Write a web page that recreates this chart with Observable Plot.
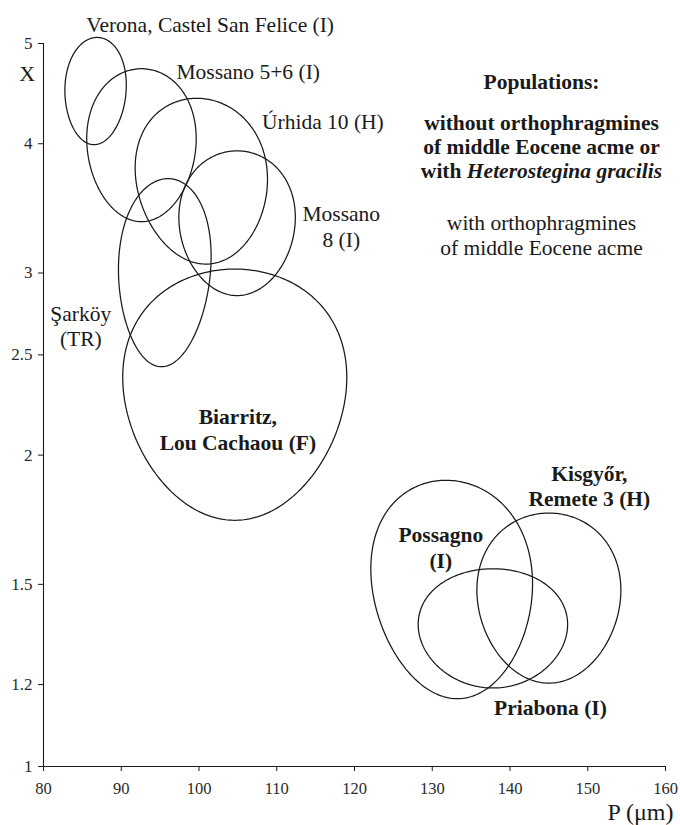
<!DOCTYPE html>
<html>
<head>
<meta charset="utf-8">
<script src="https://cdn.jsdelivr.net/npm/d3@7"></script>
<script src="https://cdn.jsdelivr.net/npm/@observablehq/plot@0.6"></script>
<style>
  html, body { margin: 0; padding: 0; background: #fff; }
  #chart { width: 680px; height: 825px; }
  #chart svg, #chart svg text { font-family: "Liberation Serif", "Times New Roman", serif; }
</style>
</head>
<body>
<div id="chart"></div>
<script>
// Populations (ellipse centre, spread and P–X correlation)
const populations = ["Verona, Castel San Felice", "Mossano 5+6", "Úrhida 10", "Mossano 8", "Şarköy",
                     "Biarritz, Lou Cachaou", "Possagno", "Kisgyőr, Remete 3", "Priabona"];
const meanP  = [86.7, 92.6, 100.3, 104.9, 95.6, 104.6, 132.5, 145.0, 137.8];
const sdP    = [3.95, 7.04, 8.51, 7.49, 5.96, 14.41, 10.40, 9.26, 9.61];
const meanX  = [4.53, 4.045, 3.743, 3.395, 3.068, 2.378, 1.527, 1.481, 1.372];
const sdX    = [0.538, 0.682, 0.683, 0.542, 0.633, 0.648, 0.364, 0.277, 0.181];
const corrPX = [0.05, 0, -0.07, 0, 0.07, 0, -0.07, 0, 0];

// Labels
const labelText   = ["Verona, Castel San Felice (I)", "Mossano 5+6 (I)", "Úrhida 10 (H)", "Mossano\n8 (I)", "Şarköy\n(TR)",
                     "Biarritz,\nLou Cachaou (F)", "Possagno\n(I)", "Kisgyőr,\nRemete 3 (H)", "Priabona (I)"];
const labelP      = [85.5, 97.1, 108.1, 118.3, 84.8, 105.0, 131.1, 150.2, 145.2];
const labelX      = [5.22, 4.71, 4.21, 3.33, 2.67, 2.12, 1.63, 1.87, 1.143];
const labelBold   = [false, false, false, false, false, true, true, true, true];
const labelAnchor = ["start", "start", "start", "middle", "middle", "middle", "middle", "middle", "middle"];

// Axes
const xTicks = [80, 90, 100, 110, 120, 130, 140, 150, 160];
const yTicks = [1, 1.2, 1.5, 2, 2.5, 3, 4, 5];

// Legend
const legendTitle = "Populations:";
const legendBold = "without orthophragmines\nof middle Eocene acme or\nwith Heterostegina gracilis";
const legendRegular = "with orthophragmines\nof middle Eocene acme";

const serif = "Liberation Serif, Times New Roman, serif";

// Build outlines (ellipses in linear P–X space)
const N = 240;
const outlines = [];
populations.forEach((name, i) => {
  const r = corrPX[i], q = Math.sqrt(1 - r * r);
  for (let k = 0; k <= N; ++k) {
    const t = (2 * Math.PI * k) / N;
    outlines.push({
      name,
      P: meanP[i] + sdP[i] * Math.cos(t),
      X: meanX[i] + sdX[i] * (r * Math.cos(t) + q * Math.sin(t))
    });
  }
});

const labels = labelText.map((text, i) => ({text, P: labelP[i], X: labelX[i], bold: labelBold[i], anchor: labelAnchor[i]}));
const labelMark = (bold, anchor) => Plot.text(
  labels.filter(d => d.bold === bold && d.anchor === anchor),
  {x: "P", y: "X", text: "text", textAnchor: anchor, lineAnchor: "middle", fontFamily: serif,
   fontSize: 21.5, fontWeight: bold ? "bold" : "normal", lineHeight: 1.2, fill: "#1a1a1a"}
);

const ink = "#1a1a1a";
const chart = Plot.plot({
  width: 680,
  height: 825,
  marginLeft: 43,
  marginRight: 15,
  marginTop: 43,
  marginBottom: 59,
  style: {fontFamily: serif, background: "#fff", color: ink, overflow: "visible"},
  x: {domain: [80, 160]},
  y: {type: "log", domain: [1, 5]},
  marks: [
    Plot.ruleX([80], {stroke: ink, strokeWidth: 1.1}),
    Plot.ruleY([1], {stroke: ink, strokeWidth: 1.1}),
    Plot.axisY({ticks: yTicks, tickFormat: d => String(d), tickSize: 5, tickPadding: 6, fontSize: 17, fontFamily: serif, label: null, stroke: ink, fill: "#2a2a2a"}),
    Plot.axisX({ticks: xTicks, tickFormat: d => String(d), tickSize: 5, tickPadding: 11, fontSize: 16.5, fontFamily: serif, label: null, stroke: ink, fill: "#2a2a2a"}),
    Plot.line(outlines, {x: "P", y: "X", z: "name", stroke: ink, strokeWidth: 1.25, curve: "linear"}),
    labelMark(false, "start"),
    labelMark(false, "middle"),
    labelMark(true, "middle"),
    Plot.text([legendTitle], {text: d => d, frameAnchor: "top-left", dx: 498, dy: 38.7, fontSize: 21.5, fontFamily: serif, fontWeight: "bold", textAnchor: "middle", lineAnchor: "middle", fill: ink}),
    Plot.text([legendBold], {text: d => d, frameAnchor: "top-left", dx: 498, dy: 102.5, fontSize: 21.5, fontFamily: serif, fontWeight: "bold", textAnchor: "middle", lineAnchor: "middle", lineHeight: 1.12, fill: ink}),
    Plot.text([legendRegular], {text: d => d, frameAnchor: "top-left", dx: 498, dy: 191.2, fontSize: 21.5, fontFamily: serif, textAnchor: "middle", lineAnchor: "middle", lineHeight: 1.16, fill: ink}),
    Plot.text(["X"], {text: d => d, frameAnchor: "top-left", dx: -16.3, dy: 30.3, fontSize: 22, fontFamily: serif, textAnchor: "middle", lineAnchor: "middle", fill: ink}),
    Plot.text(["P (μm)"], {text: d => d, frameAnchor: "bottom-right", dx: 8, dy: 46, fontSize: 24, fontFamily: serif, textAnchor: "end", lineAnchor: "middle", fill: ink})
  ]
});

// Italicise the genus/species name in the legend
chart.querySelectorAll("tspan, text").forEach(el => {
  if (el.children.length === 0 && el.textContent === "with Heterostegina gracilis") {
    el.textContent = "with ";
    const it = document.createElementNS("http://www.w3.org/2000/svg", "tspan");
    it.setAttribute("font-style", "italic");
    it.textContent = "Heterostegina gracilis";
    el.appendChild(it);
  }
});

document.getElementById("chart").appendChild(chart);
</script>
</body>
</html>
